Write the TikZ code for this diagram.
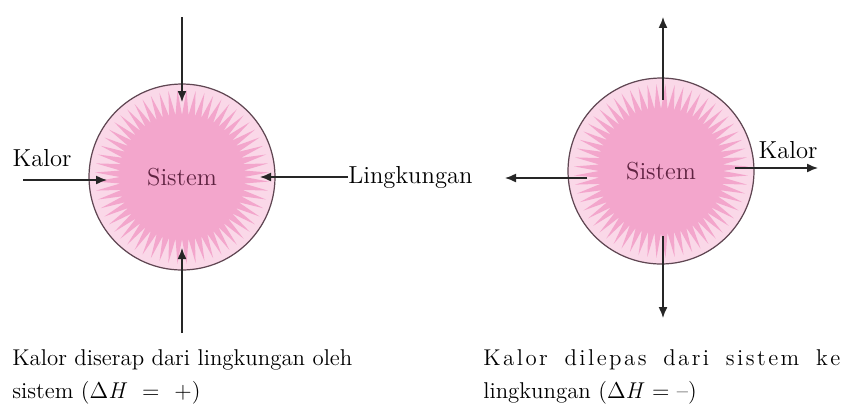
\documentclass[tikz,border=0pt]{standalone}
\usepackage{fontspec}
\usetikzlibrary{
  arrows.meta, % 箭头样式
  calc,        % 坐标计算
  positioning  % 节点相对定位
}

\definecolor{sunpink}{RGB}{243,166,204}
\definecolor{rimpink}{RGB}{250,216,232}
\definecolor{rimline}{RGB}{95,70,82}
\definecolor{systext}{RGB}{95,35,65}

% 字母间距加宽的单词
\makeatletter
\newcommand\spword[1]{\@tfor\spc:=#1\do{\spc\kern1.4pt}\unkern}
\makeatother

\tikzset{
  sysball/.style={circle, draw=rimline, line width=0.7pt, minimum size=3.72cm,
    inner sep=0pt, fill=rimpink, text=systext, font=\fontsize{14}{16}\selectfont,
    path picture={
      % 放射状的粉色星形
      \fill[sunpink] ($(path picture bounding box.center)+(0:62)$)
        \foreach \i in {1,...,60}{
          -- ($(path picture bounding box.center)+({(\i-0.5)*6}:87)$)
          -- ($(path picture bounding box.center)+({\i*6}:62)$)
        } -- cycle;
    }},
  heat/.style={-{Latex[length=2.2mm,width=1.8mm]}, line width=0.8pt, black!85},
  lbl/.style={inner sep=0pt, font=\fontsize{14}{16}\selectfont},
  caption/.style={inner sep=0pt, anchor=north west, align=left,
    font=\fontsize{13}{19}\selectfont}
}

\begin{document}
\begin{tikzpicture}[x=0.02cm, y=-0.02cm]
  \useasboundingbox (0,0) rectangle (845,406);

  % --- 左图：系统吸收热量 ---
  \node[sysball] (sysL) at (182,177) {Sistem};
  \node[lbl] (kalorL) at (42,158) {Kalor};
  \node[lbl, anchor=west] (lingk) at (348,177) {Lingkungan};
  \coordinate (topL) at (182,17);
  \coordinate (botL) at (182,333);
  \coordinate (leftL) at (23,180);
  \draw[heat] (topL) -- ($(sysL)+(0,-75)$);
  \draw[heat] (botL) -- ($(sysL)+(0,71)$);
  \draw[heat] (leftL) -- ($(sysL)+(-75,3)$);
  \draw[heat] (lingk.west) -- ($(sysL)+(78,0)$);

  % --- 右图：系统放出热量 ---
  \node[sysball] (sysR) at (661,171) {Sistem};
  \node[lbl] (kalorR) at (788,150) {Kalor};
  \coordinate (topR) at (663,17);
  \coordinate (botR) at (663,318);
  \coordinate (rightR) at (818,168);
  \coordinate (leftR) at (505,178);
  \draw[heat] ($(sysR)+(2,-71)$) -- (topR);
  \draw[heat] ($(sysR)+(2,65)$) -- (botR);
  \draw[heat] ($(sysR)+(74,-3)$) -- (rightR);
  \draw[heat] ($(sysR)+(-74,7)$) -- (leftR);

  % --- 说明文字 ---
  \node[caption] (capL) at (12,349)
    {Kalor diserap dari lingkungan oleh\\sistem (Δ\textit{H}~ = ~+)};
  \node[caption] (capR) at (483,349)
    {\hbox to 7.14cm{\spword{Kalor}\hfill\spword{dilepas}\hfill\spword{dari}\hfill
       \spword{sistem}\hfill\spword{ke}}\\
     lingkungan (Δ\textit{H} = –)};
\end{tikzpicture}
\end{document}
